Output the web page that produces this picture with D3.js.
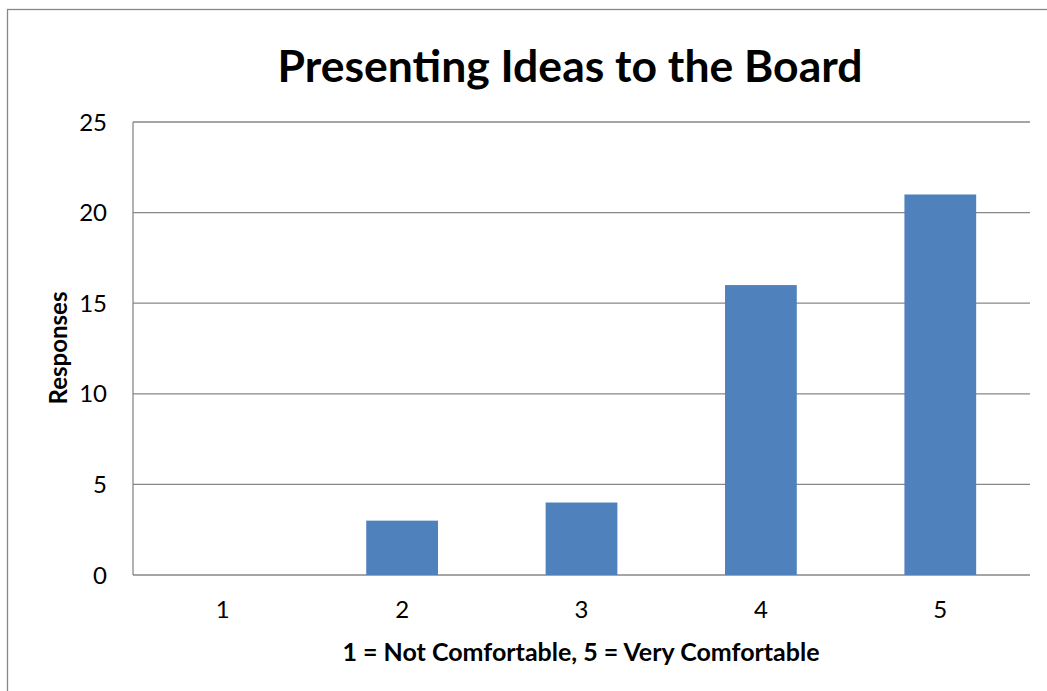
<!DOCTYPE html>
<html>
<head>
<meta charset="utf-8">
<script src="https://cdn.jsdelivr.net/npm/d3@7"></script>
<style>
  body { margin: 0; background: #fff; }
  text { font-family: Lato, "Open Sans", sans-serif; fill: #000; }
</style>
</head>
<body>
<div id="chart"></div>
<script>
// Chart data
const categories = ["1", "2", "3", "4", "5"];
const responses = [0, 3, 4, 16, 21];
const yTicks = [0, 5, 10, 15, 20, 25];

const chartTitle = "Presenting Ideas to the Board";
const xTitle = "1 = Not Comfortable, 5 = Very Comfortable";
const yTitle = "Responses";

const width = 1047, height = 691;
const plot = {left: 133, right: 1030, top: 122, bottom: 575};

const svg = d3.select("#chart")
    .append("svg")
    .attr("width", width)
    .attr("height", height);

// outer chart border (runs off the right / bottom edge like the original)
svg.append("rect")
    .attr("x", 7.5)
    .attr("y", 9.5)
    .attr("width", 1100)
    .attr("height", 800)
    .attr("fill", "none")
    .attr("stroke", "#878787")
    .attr("stroke-width", 1.3);

// scales
const xScale = d3.scaleBand()
    .domain(categories)
    .range([plot.left, plot.right])
    .paddingInner(0.6)
    .paddingOuter(0.3);

const yScale = d3.scaleLinear()
    .domain([0, 25])
    .range([plot.bottom, plot.top]);

// gridlines
svg.append("g")
    .attr("class", "grid")
    .selectAll("line")
    .data(yTicks)
    .enter()
        .append("line")
        .attr("x1", plot.left)
        .attr("x2", plot.right)
        .attr("y1", d => yScale(d))
        .attr("y2", d => yScale(d))
        .attr("stroke", "#878787")
        .attr("stroke-width", 1.3);

// bars
svg.selectAll(".bar")
    .data(responses)
    .enter()
        .append("rect")
        .attr("class", "bar")
        .attr("x", (d, i) => xScale(categories[i]))
        .attr("y", d => yScale(d))
        .attr("width", xScale.bandwidth())
        .attr("height", d => yScale(0) - yScale(d))
        .attr("fill", "#4F81BD");

// y axis line
svg.append("line")
    .attr("x1", plot.left)
    .attr("x2", plot.left)
    .attr("y1", plot.top)
    .attr("y2", plot.bottom)
    .attr("stroke", "#878787")
    .attr("stroke-width", 1.3);

// y tick labels
svg.append("g")
    .selectAll("text")
    .data(yTicks)
    .enter()
        .append("text")
        .attr("x", 107)
        .attr("y", d => yScale(d))
        .attr("dy", "0.36em")
        .attr("text-anchor", "end")
        .style("font-size", "24px")
        .text(d => d);

// x tick labels
svg.append("g")
    .selectAll("text")
    .data(categories)
    .enter()
        .append("text")
        .attr("x", d => xScale(d) + xScale.bandwidth() / 2)
        .attr("y", 618)
        .attr("text-anchor", "middle")
        .style("font-size", "24px")
        .text(d => d);

// titles
svg.append("text")
    .attr("x", 570)
    .attr("y", 82)
    .attr("text-anchor", "middle")
    .style("font-size", "44.5px")
    .style("font-weight", "bold")
    .text(chartTitle);

svg.append("text")
    .attr("x", 581)
    .attr("y", 661)
    .attr("text-anchor", "middle")
    .style("font-size", "25px")
    .style("font-weight", "bold")
    .text(xTitle);

svg.append("text")
    .attr("transform", "translate(67,348) rotate(-90)")
    .attr("text-anchor", "middle")
    .style("font-size", "24px")
    .style("font-weight", "bold")
    .text(yTitle);
</script>
</body>
</html>
